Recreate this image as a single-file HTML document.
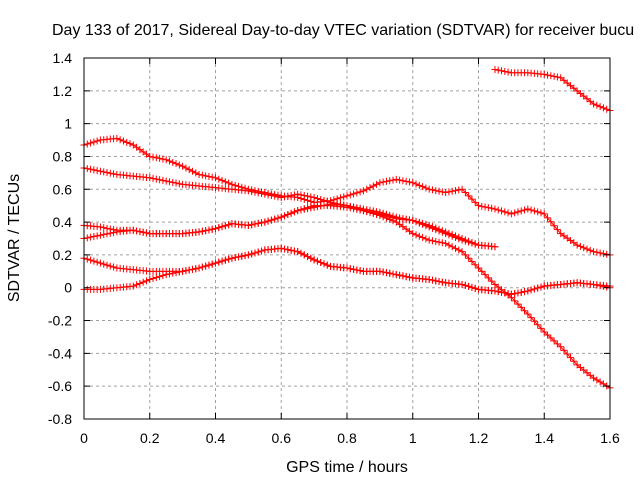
<!DOCTYPE html>
<html><head><meta charset="utf-8"><style>
body{margin:0;background:#fff;}
svg text{font-family:"Liberation Sans",sans-serif;font-size:14px;fill:#000;}
</style></head><body>
<svg id="chart" width="640" height="480" viewBox="0 0 640 480" xmlns="http://www.w3.org/2000/svg">
<text x="52" y="35" style="font-size:16px">Day 133 of 2017, Sidereal Day-to-day VTEC variation (SDTVAR) for receiver bucu</text>
<text transform="translate(19,238) rotate(-90)" text-anchor="middle" style="font-size:16px">SDTVAR / TECUs</text>
<text x="347" y="472" text-anchor="middle" style="font-size:16px">GPS time / hours</text>
<g id="grid"></g>
<g id="series"></g>
<rect x="84" y="58" width="526" height="361" fill="none" stroke="#000" stroke-width="1"/>
<g id="ticks"></g>
</svg>
<script>
const xTicks=[0,0.2,0.4,0.6,0.8,1,1.2,1.4,1.6];
const yTicks=[-0.8,-0.6,-0.4,-0.2,0,0.2,0.4,0.6,0.8,1,1.2,1.4];
const xTickLabels=["0","0.2","0.4","0.6","0.8","1","1.2","1.4","1.6"];
const yTickLabels=["-0.8","-0.6","-0.4","-0.2","0","0.2","0.4","0.6","0.8","1","1.2","1.4"];
const hours=[0,0.05,0.1,0.15,0.2,0.25,0.3,0.35,0.4,0.45,0.5,0.55,0.6,0.65,0.7,0.75,0.8,0.85,0.9,0.95,1.0,1.05,1.1,1.15,1.2,1.25,1.3,1.35,1.4,1.45,1.5,1.55,1.6];
const s1Hours=[1.25,1.3,1.35,1.4,1.45,1.5,1.55,1.6];
const s1=[1.33,1.31,1.31,1.3,1.28,1.2,1.12,1.08];
const s2=[0.87,0.9,0.91,0.87,0.8,0.78,0.74,0.69,0.67,0.63,0.6,0.58,0.56,0.55,0.52,0.53,0.56,0.59,0.64,0.66,0.64,0.6,0.58,0.6,0.5,0.48,0.45,0.48,0.45,0.33,0.26,0.22,0.2];
const s3=[0.73,0.71,0.69,0.68,0.67,0.65,0.63,0.62,0.61,0.6,0.59,0.57,0.55,0.57,0.55,0.52,0.5,0.47,0.44,0.4,0.33,0.29,0.27,0.22,0.12,0.02,-0.06,-0.16,-0.27,-0.36,-0.47,-0.55,-0.61];
const s4=[0.38,0.37,0.35,0.35,0.33,0.33,0.33,0.34,0.36,0.39,0.38,0.4,0.43,0.47,0.5,0.5,0.49,0.47,0.45,0.42,0.41,0.38,0.34,0.3,0.26,0.25];
const s5=[0.3,0.32,0.34,0.35,0.33,0.33,0.33,0.34,0.36,0.39,0.38,0.4,0.43,0.47,0.49,0.51,0.5,0.48,0.46,0.43,0.41,0.37,0.33,0.29,0.26,0.25];
const s6=[0.18,0.15,0.12,0.11,0.1,0.1,0.1,0.12,0.15,0.18,0.2,0.23,0.24,0.22,0.17,0.13,0.12,0.1,0.1,0.08,0.06,0.05,0.03,0.02,-0.01,-0.02,-0.04,-0.02,0.01,0.02,0.03,0.02,0.01];
const s7=[-0.01,-0.01,0.0,0.01,0.05,0.08,0.1,0.12,0.15,0.18,0.2,0.23,0.24,0.22,0.17,0.13,0.12,0.1,0.1,0.08,0.06,0.05,0.03,0.02,-0.01,-0.02,-0.04,-0.02,0.01,0.02,0.03,0.02,0.0];
const NS="http://www.w3.org/2000/svg";
const X0=84,X1=610,Y0=419,Y1=58;
function xs(v){return X0+(v-0)/(1.6-0)*(X1-X0);}
function ys(v){return Y0-(v+0.8)/(2.2)*(Y0-Y1);}
function mk(tag,attrs,parent){const e=document.createElementNS(NS,tag);for(const k in attrs)e.setAttribute(k,attrs[k]);parent.appendChild(e);return e;}
const grid=document.getElementById('grid'),ticks=document.getElementById('ticks'),ser=document.getElementById('series');
xTicks.forEach((t,i)=>{
  const x=xs(t);
  if(i>0&&i<xTicks.length-1){const g=mk('line',{x1:x,x2:x,y1:Y1,y2:Y0,stroke:'#a0a0a0','stroke-dasharray':'3,3'},grid);
  
  }
  const tk=mk('path',{d:`M${x},${Y0}v-6M${x},${Y1}v6`,stroke:'#000'},ticks);
  
  
  const tx=mk('text',{x:x,y:443,'text-anchor':'middle'},ticks);tx.textContent=xTickLabels[i];
  
  
});
yTicks.forEach((t,i)=>{
  const y=ys(t);
  if(i>0&&i<yTicks.length-1){const g=mk('line',{x1:X0,x2:X1,y1:y,y2:y,stroke:'#a0a0a0','stroke-dasharray':'3,3'},grid);
  
  }
  const tk=mk('path',{d:`M${X0},${y}h6M${X1},${y}h-6`,stroke:'#000'},ticks);
  
  
  const tx=mk('text',{x:72,y:y+5,'text-anchor':'end'},ticks);tx.textContent=yTickLabels[i];
  
  
});
function drawSeries(hx,vals,name){
  const g=mk('g',{},ser);
  
  
  const pts=vals.map((v,i)=>[xs(hx[i]),ys(v)]);
  const pl=mk('polyline',{points:pts.map(p=>p.join(',')).join(' '),fill:'none',stroke:'#f00','stroke-width':1},g);
  
  
  let d='';
  for(let i=0;i<pts.length-1;i++){
    const [ax,ay]=pts[i],[bx,by]=pts[i+1];
    const n=Math.max(1,Math.round((bx-ax)/3.3));
    for(let k=0;k<n;k++){const x=ax+(bx-ax)*k/n,y=ay+(by-ay)*k/n;d+=`M${x-3.5},${y}h7M${x},${y-3.5}v7`;}
  }
  const l=pts[pts.length-1];d+=`M${l[0]-3.5},${l[1]}h7M${l[0]},${l[1]-3.5}v7`;
  const m=mk('path',{d:d,stroke:'#f00','stroke-width':1,fill:'none'},g);
  
  
}
drawSeries(s1Hours,s1,'series-1');
drawSeries(hours,s2,'series-2');
drawSeries(hours,s3,'series-3');
drawSeries(hours,s4,'series-4');
drawSeries(hours,s5,'series-5');
drawSeries(hours,s6,'series-6');
drawSeries(hours,s7,'series-7');
</script>
</body></html>
